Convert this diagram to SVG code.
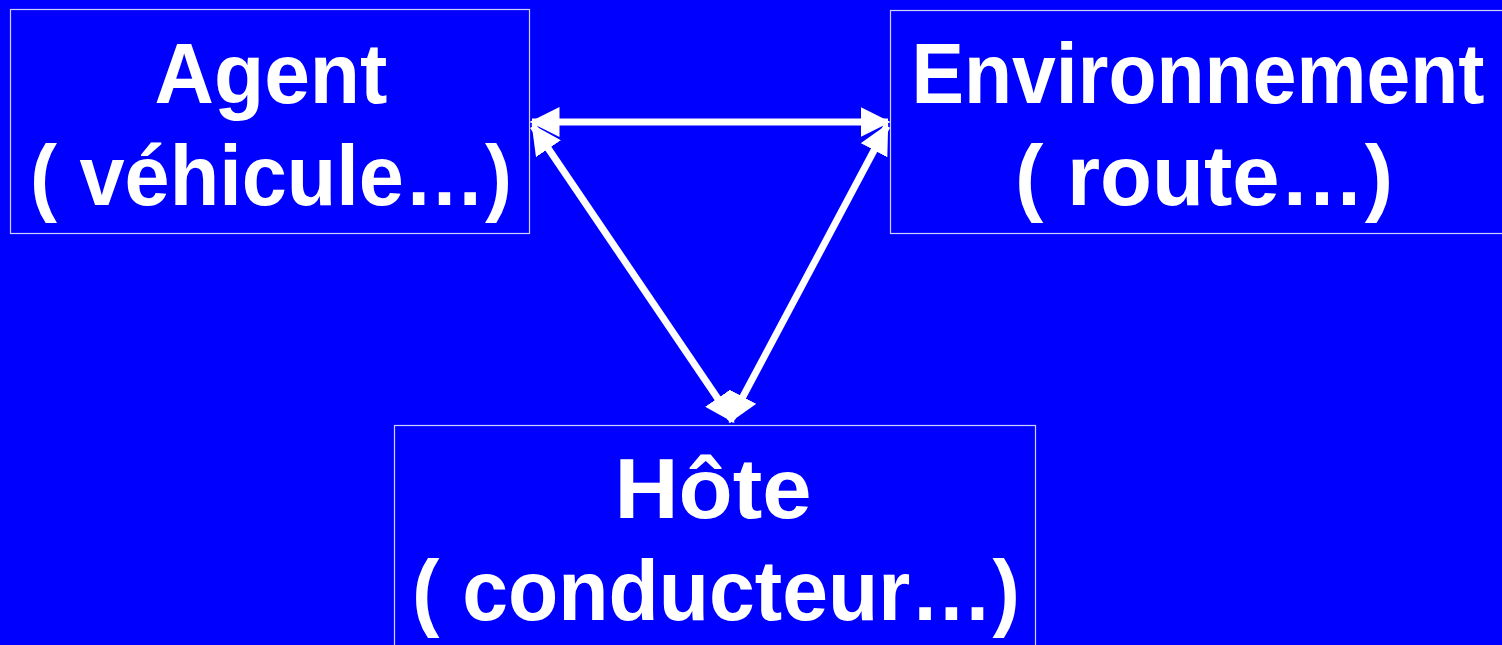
<svg xmlns="http://www.w3.org/2000/svg" width="1502" height="645" viewBox="0 0 1502 645">
<defs>
<style>
.box{fill:#0000ff;stroke:#d0d0ff;stroke-width:1.2}
.t{font-family:"Comic Sans MS","Liberation Sans",sans-serif;font-weight:bold;font-size:86px;fill:#fff;text-anchor:middle}
.c{stroke:#fff;stroke-width:7;fill:none}
</style>
<marker id="ah" markerUnits="userSpaceOnUse" markerWidth="30" markerHeight="30" viewBox="0 0 24 24" refX="22" refY="12" orient="auto-start-reverse">
<path d="M0,0 L24,12 L0,24 z" fill="#fff"/>
</marker>
</defs>
<rect width="1502" height="645" fill="#0000ff"/>
<g id="agent">
<rect class="box" x="10.5" y="9.5" width="519" height="224"/>
<text class="t" x="271" y="103" textLength="233" lengthAdjust="spacingAndGlyphs">Agent</text>
<text class="t" x="271" y="205" textLength="482" lengthAdjust="spacingAndGlyphs">( véhicule…)</text>
</g>
<g id="environnement">
<rect class="box" x="890.5" y="10.5" width="620" height="223"/>
<text class="t" x="1198" y="103" textLength="573" lengthAdjust="spacingAndGlyphs">Environnement</text>
<text class="t" x="1204" y="205" textLength="378" lengthAdjust="spacingAndGlyphs">( route…)</text>
</g>
<g id="hote">
<rect class="box" x="394.5" y="425.5" width="641" height="230"/>
<text class="t" x="713" y="518" textLength="197" lengthAdjust="spacingAndGlyphs">Hôte</text>
<text class="t" x="716" y="620" textLength="608" lengthAdjust="spacingAndGlyphs">( conducteur…)</text>
</g>
<g id="connectors">
<path class="c" d="M532,122 L888,122" marker-start="url(#ah)" marker-end="url(#ah)"/>
<path class="c" d="M533,126 L733,421" marker-start="url(#ah)" marker-end="url(#ah)"/>
<path class="c" d="M887,126 L730,421" marker-start="url(#ah)" marker-end="url(#ah)"/>
</g>
</svg>
